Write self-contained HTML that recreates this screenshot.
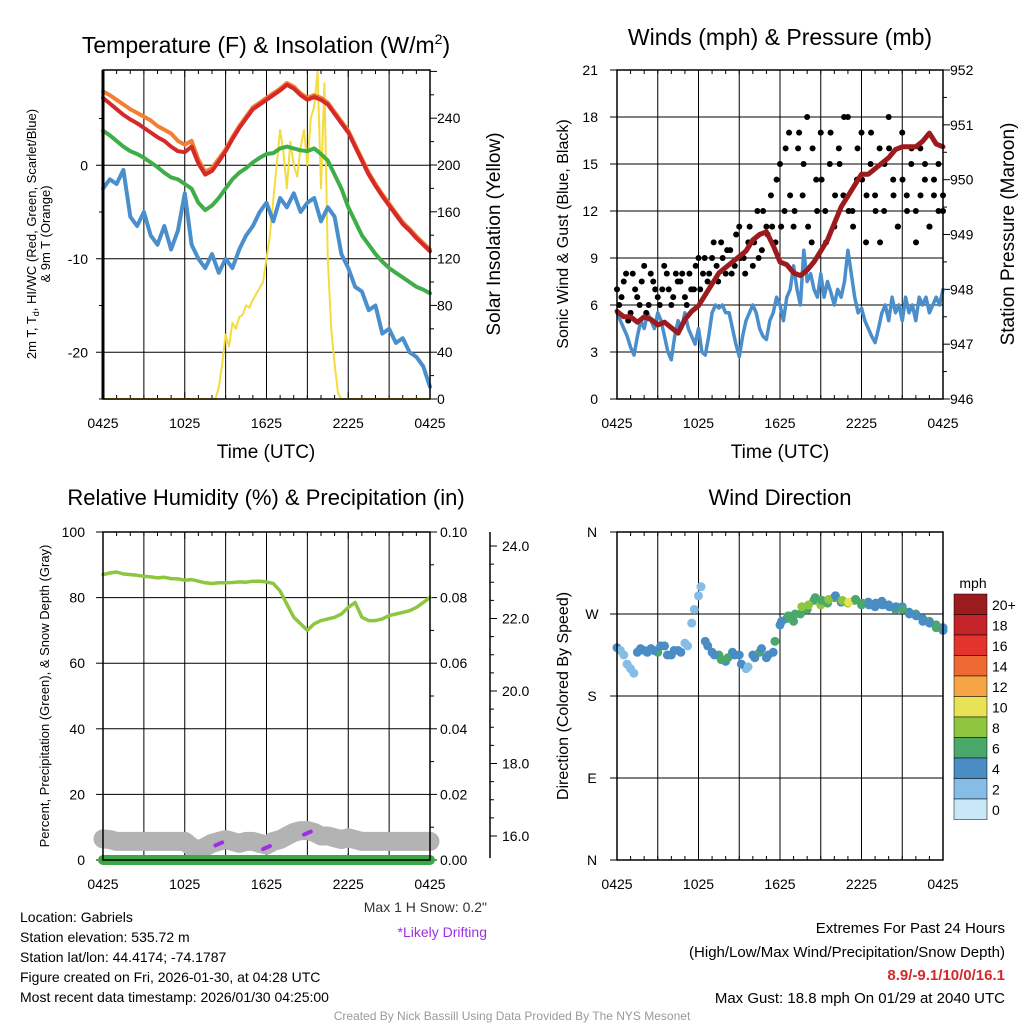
<!DOCTYPE html>
<html><head><meta charset="utf-8"><style>
body{margin:0;background:#fff}
svg{display:block;font-family:"Liberation Sans",sans-serif}
</style></head><body>
<svg id="c" width="1024" height="1024" viewBox="0 0 1024 1024" xmlns="http://www.w3.org/2000/svg"></svg>
<script>
const xLabels = ["0425","1025","1625","2225","0425"];
const tempRed = [7.2,6.6,6.0,5.4,4.9,4.5,4.0,3.5,3.0,2.6,2.0,1.5,1.4,2.0,0.2,-1.0,-0.6,0.4,1.5,2.8,4.0,5.0,6.0,6.5,7.0,7.5,8.0,8.6,8.2,7.5,7.0,7.3,7.0,6.5,5.5,4.5,3.5,2.0,0.5,-1.0,-2.2,-3.3,-4.3,-5.3,-6.3,-7.0,-7.8,-8.5,-9.2];
const tempOrange = [7.9,7.5,7.0,6.5,6.0,5.6,5.2,4.8,4.2,3.8,3.4,2.6,2.2,2.6,0.6,-0.7,-0.3,0.7,1.7,3.0,4.2,5.2,6.2,6.7,7.2,7.7,8.2,8.8,8.4,7.7,7.2,7.5,7.2,6.7,5.7,4.7,3.7,2.2,0.7,-0.8,-2.0,-3.1,-4.1,-5.1,-6.1,-6.8,-7.6,-8.3,-9.0];
const tempGreen = [3.7,3.2,2.6,2.0,1.5,1.2,0.8,0.3,-0.2,-0.8,-1.3,-1.5,-2.0,-2.5,-4.0,-4.8,-4.3,-3.5,-2.5,-1.5,-0.8,-0.3,0.3,0.8,1.2,1.3,1.8,2.0,1.8,1.6,1.5,1.8,1.2,0.5,-1.0,-2.5,-4.5,-6.0,-7.5,-8.5,-9.5,-10.3,-11.0,-11.5,-12.0,-12.5,-13.0,-13.3,-13.7];
const tempBlue = [-2.5,-1.5,-2.0,-0.5,-5.5,-6.5,-5.0,-7.5,-8.5,-6.5,-9.0,-7.0,-3.0,-8.5,-10.0,-11.0,-9.5,-11.5,-10.0,-11.0,-9.0,-7.5,-6.5,-5.0,-4.0,-6.0,-3.5,-4.5,-3.0,-5.0,-4.0,-3.5,-6.0,-4.5,-5.5,-9.5,-11.0,-13.0,-13.5,-15.5,-15.0,-18.0,-17.5,-19.0,-18.5,-20.0,-20.5,-21.5,-23.7];
const solar = [0,0,0,0,0,0,0,0,0,0,0,0,0,0,0,0,0,0,0,0,0,0,0,0,0,0,0,0,0,0,0,0,0,0,10,30,55,45,65,60,70,72,80,78,85,90,95,100,120,140,170,200,230,210,180,220,200,190,215,230,200,240,250,280,180,270,120,60,30,5,0,0,0,0,0,0,0,0,0,0,0,0,0,0,0,0,0,0,0,0,0,0,0,0,0,0,0];
const windSpd = [5.5,5,4.5,4,3.3,2.8,4,5,4.5,5.5,5,4.5,5.5,5,4,3,2.5,4,5,4.5,5.5,4.5,4,3.5,4.5,3,2.8,4,5.5,6,5.8,6,5.5,5.5,4.5,3.5,2.7,4,5,5.5,6,5.5,4.5,4,3.8,5,5.5,6.5,6,5,6.5,7,8.5,7,6,9.5,7.5,8,7,6.5,8,6.5,7.5,6.8,6,7,6.5,7.5,9.5,8,6.5,5.5,5.8,5,4.5,4,3.6,4.5,5.5,6,5,6.5,5.5,6,5,6.5,5.5,6,5,6.5,6,6.5,5.5,6,6.5,6,7];
const pressure = [947.6,947.5,947.5,947.4,947.5,947.45,947.35,947.4,947.3,947.2,947.45,947.6,947.7,947.9,948.1,948.3,948.4,948.5,948.6,948.7,948.9,949.0,949.05,948.8,948.5,948.45,948.3,948.25,948.35,948.5,948.7,948.9,949.2,949.5,949.7,949.9,950.1,950.1,950.2,950.3,950.4,950.55,950.6,950.6,950.6,950.7,950.85,950.65,950.6];
const gusts = [7,6.5,8,5.5,7,6,8.5,6,7.5,6.5,7,8,6,8,7.5,6.5,8,7,9,8,7.5,9,8.5,10,8,9.5,8.5,11,9,10,8.5,12,9.5,11,13,10,15,12,17,11,16,13,18,10,14,17,12,15,11,16,13,18,12,14,17,10,15,13,16,12,18,14,11,17,13,15,12,16,14,11,13,15,12];
const gusts2 = [6,7.5,5,8,6.5,7.5,5.5,8,7,6,8.5,7,6.5,7.5,8,6,7,8.5,7,9,8,10,7.5,9,9.5,8,10.5,9,8,11,10,9,12,10.5,11,14,11,16,13,12,17,15,11,16,12,14,10,17,13,15,18,12,11,16,14,13,17,12,10,15,16,13,11,14,12,16,10,13,15,11,14,12,13];
const rh = [87,87.5,87.8,87.2,87,86.8,86.5,86.3,86,86.2,85.8,85.7,85.3,85.5,85,84.5,84.3,84.5,84.5,84.6,84.8,84.7,85,85,84.8,84.3,82,78,74,72,70,72,73,73.5,74,75,77,78.5,74,73,73,73.5,74.5,75,75.5,76,77,78.5,80];
const precip = [0,0,0,0,0,0,0,0,0,0,0,0,0,0,0,0,0,0,0,0,0,0,0,0,0,0,0,0,0,0,0,0,0,0,0,0,0,0,0,0,0,0,0,0,0,0,0,0,0];
const snowDepth = [15.92,15.9,15.85,15.85,15.85,15.85,15.85,15.85,15.85,15.85,15.85,15.85,15.85,15.7,15.6,15.7,15.8,15.85,15.9,15.85,15.8,15.85,15.85,15.8,15.75,15.85,15.9,16.0,16.1,16.15,16.15,16.1,16.0,16.0,15.95,15.9,15.95,15.9,15.85,15.85,15.85,15.85,15.85,15.85,15.85,15.85,15.85,15.85,15.85];
const driftIdx = [17,24,30];
const windDir = [233,225,210,228,230,232,228,235,225,230,238,260,290,240,228,225,218,228,225,210,225,228,222,228,258,265,262,270,275,285,280,282,288,283,282,285,280,283,278,284,280,275,278,272,270,265,262,258,255];
const dirSpd = [4,3,3,4,5,4,6,5,4,5,3,3,2,4,5,6,5,4,5,3,5,6,5,5,5,6,6,7,7,6,8,6,7,5,9,7,6,5,5,4,5,6,5,5,6,5,6,6,5];
const windDir2 = [230,215,205,232,228,230,235,225,230,228,235,275,300,235,225,220,222,225,215,212,222,232,225,240,262,268,270,278,280,288,285,286,290,285,283,286,282,280,282,280,278,278,275,270,268,262,260,255,252];
const dirSpd2 = [3,3,2,4,4,5,5,4,5,4,2,2,2,5,4,6,6,5,4,3,4,5,4,6,5,7,6,8,9,7,6,8,5,9,10,6,7,5,4,5,4,5,6,5,4,5,5,6,5];
const cbLabels = ["20+","18","16","14","12","10","8","6","4","2","0"];
const cbColors = ["#9b1b1e","#c4232a","#e2332c","#ef6a32","#f6a446","#e8e356","#8ec640","#4aa86b","#4a8cc4","#86bde6","#c8e8f8"];

const svg = document.getElementById('c');
const NS = 'http://www.w3.org/2000/svg';
function mk(tag, attrs, name, parent){
  const el = document.createElementNS(NS, tag);
  for (const k in attrs) el.setAttribute(k, attrs[k]);
  
  
  (parent||svg).appendChild(el);
  return el;
}
function txt(x,y,s,size,name,opt){
  opt=opt||{};
  const el = mk('text',{x:x,y:y,'font-size':size,fill:opt.fill||'#000','text-anchor':opt.anchor||'middle','font-weight':opt.bold?'bold':'normal'},name);
  if(opt.rot){el.setAttribute('transform','rotate(-90 '+x+' '+y+')');}
  el.textContent=s; return el;
}
function ln(x1,y1,x2,y2,c,w,name){return mk('line',{x1:x1,y1:y1,x2:x2,y2:y2,stroke:c,'stroke-width':w},name);}
function poly(xs,ys,c,w,name){
  let d=''; for(let i=0;i<xs.length;i++) d+=(i?'L':'M')+xs[i].toFixed(1)+' '+ys[i].toFixed(1);
  return mk('path',{d:d,fill:'none',stroke:c,'stroke-width':w,'stroke-linejoin':'round','stroke-linecap':'round'},name);
}
function frame(p,name){
  for(let h=3;h<24;h+=3){const x=p.x0+h/24*(p.x1-p.x0); ln(x,p.y0,x,p.y1,'#000',1,name+'-vgrid');}
  for(let h=0;h<=24;h++){const x=p.x0+h/24*(p.x1-p.x0); const L=h%6==0?7:4;
    ln(x,p.y1,x,p.y1-L,'#000',1,name+'-xtick'); ln(x,p.y0,x,p.y0+L,'#000',1,name+'-xtick-top');}
  for(let k=0;k<xLabels.length;k++){txt(p.x0+k*(p.x1-p.x0)/4,p.y1+29,xLabels[k],14,name+'-xlabel');}
}
function box(p,name){mk('rect',{x:p.x0,y:p.y0,width:p.x1-p.x0,height:p.y1-p.y0,fill:'none',stroke:'#000','stroke-width':1.5},name+'-frame');}
function tx(p,i,n){return p.x0+i/(n-1)*(p.x1-p.x0);}

// ===== Panel 1 Temperature =====
const P1={x0:103,x1:430,y0:70,y1:399};
const ty=v=>399-(v+25)*9.35, sy=v=>399-v*1.17;
frame(P1,'temp');
[-20,-10,0].forEach(v=>{ln(P1.x0,ty(v),P1.x1,ty(v),'#000',1,'temp-hgrid');ln(P1.x0-7,ty(v),P1.x0,ty(v),'#000',1,'temp-ytick');txt(88,ty(v)+5,String(v),14,'temp-ylabel',{anchor:'end'});});
[-25,-15,-5,5].forEach(v=>ln(P1.x0-4,ty(v),P1.x0,ty(v),'#000',1,'temp-yminor'));
for(let v=0;v<=280;v+=20){const L=v%40==0?7:4;ln(P1.x1,sy(v),P1.x1+L,sy(v),'#000',1,'solar-ytick');if(v%40==0&&v<=240)txt(437,sy(v)+5,String(v),14,'solar-ylabel',{anchor:'start'});}
poly(solar.map((v,i)=>tx(P1,i,solar.length)),solar.map(sy),'#f5dc3c',2,'solar-line');
poly(tempBlue.map((v,i)=>tx(P1,i,49)),tempBlue.map(ty),'#4a8fcc',4,'temp-blue-line');
poly(tempGreen.map((v,i)=>tx(P1,i,49)),tempGreen.map(ty),'#3fae48',4,'temp-green-line');
poly(tempOrange.map((v,i)=>tx(P1,i,49)),tempOrange.map(ty),'#f47f30',4,'temp-orange-line');
poly(tempRed.map((v,i)=>tx(P1,i,49)),tempRed.map(ty),'#d42a2a',4,'temp-red-line');
box(P1,'temp'); ln(103,70,103,399,'#000',3,'temp-left-axis');
(function(){const t=txt(266,53,'',23,'temp-title');t.innerHTML='Temperature (F) &amp; Insolation (W/m<tspan dy="-9" font-size="14">2</tspan><tspan dy="9">)</tspan>';})();
(function(){const t=txt(36,234,'',13,'temp-y-title',{rot:true});t.innerHTML='2m T, T<tspan dy="3" font-size="9">d</tspan><tspan dy="-3">, HI/WC (Red, Green, Scarlet/Blue)</tspan>';})();
txt(50,234,'& 9m T (Orange)',13,'temp-y-title-2',{rot:true});
txt(500,234,'Solar Insolation (Yellow)',19,'solar-y-title',{rot:true});
txt(266,458,'Time (UTC)',19,'temp-x-title');

// ===== Panel 2 Winds =====
const P2={x0:617,x1:943,y0:70,y1:399};
const wy=v=>399-v*15.667, py=v=>399-(v-946)*54.83;
frame(P2,'wind');
for(let v=0;v<=21;v+=3){if(v>0&&v<21)ln(P2.x0,wy(v),P2.x1,wy(v),'#000',1,'wind-hgrid');ln(P2.x0-7,wy(v),P2.x0,wy(v),'#000',1,'wind-ytick');txt(598,wy(v)+5,String(v),14,'wind-ylabel',{anchor:'end'});}
for(let v=946;v<=952;v+=0.5){const L=(v%1==0)?7:4;ln(P2.x1,py(v),P2.x1+L,py(v),'#000',1,'pres-ytick');if(v%1==0)txt(950,py(v)+5,String(v),14,'pres-ylabel',{anchor:'start'});}
poly(windSpd.map((v,i)=>tx(P2,i,windSpd.length)),windSpd.map(wy),'#4a8fcc',3.5,'wind-speed-line');
gusts.forEach((v,i)=>mk('circle',{cx:tx(P2,i,gusts.length),cy:wy(v),r:3,fill:'#000'},'gust-dot'));
gusts2.forEach((v,i)=>mk('circle',{cx:tx(P2,i+0.5,gusts2.length+0.5),cy:wy(v),r:3,fill:'#000'},'gust-dot'));
poly(pressure.map((v,i)=>tx(P2,i,49)),pressure.map(py),'#9b1b1e',5,'pressure-line');
box(P2,'wind');
txt(780,45,'Winds (mph) & Pressure (mb)',23,'wind-title');
txt(568,234,'Sonic Wind & Gust (Blue, Black)',16,'wind-y-title',{rot:true});
txt(1014,234,'Station Pressure (Maroon)',19,'pres-y-title',{rot:true});
txt(780,458,'Time (UTC)',19,'wind-x-title');

// ===== Panel 3 RH =====
const P3={x0:103,x1:430,y0:532,y1:860};
const ry=v=>860-v*3.28, pry=v=>860-v*3280, dy=v=>546+(24-v)*36.25;
frame(P3,'rh');
for(let v=0;v<=100;v+=20){if(v>0&&v<100)ln(P3.x0,ry(v),P3.x1,ry(v),'#000',1,'rh-hgrid');ln(P3.x0-7,ry(v),P3.x0,ry(v),'#000',1,'rh-ytick');txt(85,ry(v)+5,String(v),14,'rh-ylabel',{anchor:'end'});}
for(let v=0;v<=0.1001;v+=0.01){const k=Math.round(v*100);const L=k%2==0?7:4;ln(P3.x1,pry(v),P3.x1+L,pry(v),'#000',1,'precip-ytick');if(k%2==0)txt(440,pry(v)+5,v.toFixed(2),14,'precip-ylabel',{anchor:'start'});}
ln(490,532,490,858,'#000',1.5,'snow-axis');
for(let v=16;v<=24;v+=0.5){const L=(v%2==0)?7:4;ln(490,dy(v),490+L,dy(v),'#000',1,'snow-ytick');if(v%2==0)txt(502,dy(v)+5,v.toFixed(1),14,'snow-ylabel',{anchor:'start'});}
poly(snowDepth.map((v,i)=>tx(P3,i,49)),snowDepth.map(dy),'#b3b3b3',19,'snow-depth-line');
driftIdx.forEach(i=>poly([tx(P3,i-0.5,49),tx(P3,i+0.5,49)],[dy(snowDepth[i])+4,dy(snowDepth[i])+1],'#9b30e0',4,'drift-mark'));
poly(precip.map((v,i)=>tx(P3,i,49)),precip.map(v=>pry(v)),'#3aa845',10,'precip-line');
poly(rh.map((v,i)=>tx(P3,i,49)),rh.map(ry),'#8dc63f',3.5,'rh-line');
box(P3,'rh');
txt(266,505,'Relative Humidity (%) & Precipitation (in)',22,'rh-title');
txt(49,696,'Percent, Precipitation (Green), & Snow Depth (Gray)',13,'rh-y-title',{rot:true});

// ===== Panel 4 Direction =====
const P4={x0:617,x1:943,y0:532,y1:860};
const ddy=v=>860-v*0.9111;
frame(P4,'dir');
[[360,'N'],[270,'W'],[180,'S'],[90,'E'],[0,'N']].forEach(d=>{if(d[0]>0&&d[0]<360)ln(P4.x0,ddy(d[0]),P4.x1,ddy(d[0]),'#000',1,'dir-hgrid');ln(P4.x0-7,ddy(d[0]),P4.x0,ddy(d[0]),'#000',1,'dir-ytick');txt(592,ddy(d[0])+5,d[1],14,'dir-ylabel',{anchor:'middle'});});
function spdColor(s){let k=Math.min(10,Math.floor(s/2));return cbColors[10-k];}
windDir.forEach((v,i)=>mk('circle',{cx:tx(P4,i,49),cy:ddy(v),r:4.5,fill:spdColor(dirSpd[i])},'dir-dot'));
windDir2.forEach((v,i)=>mk('circle',{cx:tx(P4,i+0.5,49.5),cy:ddy(v),r:4.5,fill:spdColor(dirSpd2[i])},'dir-dot'));
box(P4,'dir');
txt(780,505,'Wind Direction',22,'dir-title');
txt(568,696,'Direction (Colored By Speed)',16,'dir-y-title',{rot:true});
txt(973,588,'mph',14,'colorbar-title');
cbColors.forEach((c,i)=>{mk('rect',{x:954,y:594+i*20.5,width:33,height:20.5,fill:c,stroke:'#000','stroke-width':0.5},'colorbar-box');txt(992,610+i*20.5,cbLabels[i],14,'colorbar-label',{anchor:'start'});});

// ===== Text =====
txt(487,912,'Max 1 H Snow: 0.2"',14,'max-snow-note',{anchor:'end',fill:'#333'});
txt(487,937,'*Likely Drifting',14,'drifting-note',{anchor:'end',fill:'#9b30e0'});
['Location: Gabriels','Station elevation: 535.72 m','Station lat/lon: 44.4174; -74.1787','Figure created on Fri, 2026-01-30, at 04:28 UTC','Most recent data timestamp: 2026/01/30 04:25:00'].forEach((s,i)=>txt(20,922+i*20,s,14,'station-info',{anchor:'start'}));
txt(1005,933,'Extremes For Past 24 Hours',15,'extremes-title',{anchor:'end'});
txt(1005,957,'(High/Low/Max Wind/Precipitation/Snow Depth)',15,'extremes-subtitle',{anchor:'end'});
txt(1005,980,'8.9/-9.1/10/0/16.1',15,'extremes-values',{anchor:'end',fill:'#d42a2a',bold:true});
txt(1005,1003,'Max Gust: 18.8 mph On 01/29 at 2040 UTC',15,'max-gust',{anchor:'end'});
txt(512,1020,'Created By Nick Bassill Using Data Provided By The NYS Mesonet',12,'credit',{fill:'#999'});
</script>
</body></html>
